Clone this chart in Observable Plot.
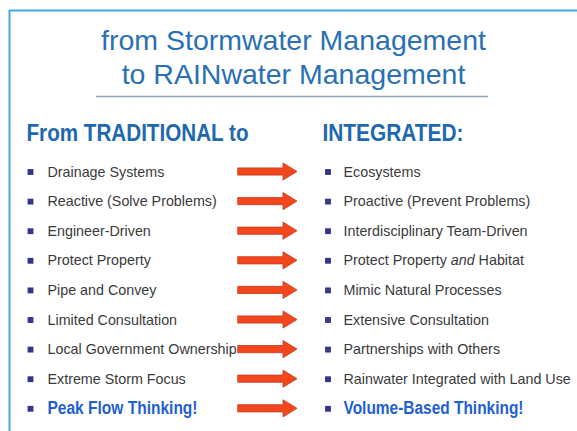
<!DOCTYPE html>
<html>
<head>
<meta charset="utf-8">
<script src="https://cdn.jsdelivr.net/npm/d3@7"></script>
<script src="https://cdn.jsdelivr.net/npm/@observablehq/plot@0.6"></script>
<style>
  html, body { margin: 0; padding: 0; background: #ffffff; }
  #chart svg { display: block; }
</style>
</head>
<body>
<div id="chart"></div>
<script>
// ---- data ----
const titleLines = ["from Stormwater Management", "to RAINwater Management"];
const headingLeft = "From TRADITIONAL to";
const headingRight = "INTEGRATED:";
const traditional = [
  "Drainage Systems",
  "Reactive (Solve Problems)",
  "Engineer-Driven",
  "Protect Property",
  "Pipe and Convey",
  "Limited Consultation",
  "Local Government Ownership",
  "Extreme Storm Focus",
  "Peak Flow Thinking!"
];
const integrated = [
  "Ecosystems",
  "Proactive (Prevent Problems)",
  "Interdisciplinary Team-Driven",
  "Protect Property and Habitat",
  "Mimic Natural Processes",
  "Extensive Consultation",
  "Partnerships with Others",
  "Rainwater Integrated with Land Use",
  "Volume-Based Thinking!"
];
const emphasized = [false, false, false, false, false, false, false, false, true];

// ---- layout ----
const W = 577, H = 431;
const L = {
  frameX: 9, frameY: 10,
  titleY: [40, 74], titleX: 293,
  ruleY: 96, ruleX1: 96, ruleX2: 488,
  headY: 133, headLeftX: 26, headRightX: 322,
  row0: 171.5, rowStep: 29.6,
  bulletL: 30, textL: 47, bulletR: 327.5, textR: 343,
  arrowX: 238
};
// condensed (narrow bold) text widths, px
const narrowWidths = new Map([
  [headingLeft, 222], [headingRight, 141],
  ["Peak Flow Thinking!", 150], ["Volume-Based Thinking!", 180]
]);
const rowY = i => L.row0 + i * L.rowStep;

const rows = traditional.map((t, i) => ({i, left: t, right: integrated[i], em: emphasized[i], y: rowY(i)}));

// arrow profile (offset from start, half-height)
const arrowProfile = [[0, 3.6], [45, 3.6], [45, 8.6], [59, 0]];
const arrowPts = rows.flatMap(r => arrowProfile.map(([dx, h]) => ({i: r.i, x: L.arrowX + dx, y1: r.y - h, y2: r.y + h})));

const body = rows.filter(r => !r.em);
const emph = rows.filter(r => r.em);
const titleData = titleLines.map((t, k) => ({t, y: L.titleY[k]}));

const sans = "Liberation Sans, Arial, sans-serif";

const chart = Plot.plot({
  width: W, height: H, margin: 0,
  x: {type: "linear", domain: [0, W], range: [0, W], axis: null},
  y: {type: "linear", domain: [0, H], range: [0, H], axis: null},
  style: {background: "#ffffff", overflow: "visible"},
  marks: [
    // slide frame (top and left edges)
    Plot.ruleY([L.frameY], {x1: L.frameX, x2: W, stroke: "#45a6e6", strokeWidth: 2}),
    Plot.ruleX([L.frameX], {y1: L.frameY, y2: H, stroke: "#45a6e6", strokeWidth: 2}),
    // title
    Plot.text(titleData, {x: L.titleX, y: "y", text: "t", fill: "#2a70b2", fontSize: 28.5,
      fontFamily: sans, textAnchor: "middle", lineAnchor: "middle"}),
    Plot.ruleY([L.ruleY], {x1: L.ruleX1, x2: L.ruleX2, stroke: "#8fa3b8", strokeWidth: 1.5}),
    // headings
    Plot.text([headingLeft], {x: L.headLeftX, y: L.headY, text: d => d, fill: "#1d68b0", fontSize: 23.5, fontWeight: "bold",
      fontFamily: sans, textAnchor: "start", lineAnchor: "middle"}),
    Plot.text([headingRight], {x: L.headRightX, y: L.headY, text: d => d, fill: "#1d68b0", fontSize: 23.5, fontWeight: "bold",
      fontFamily: sans, textAnchor: "start", lineAnchor: "middle"}),
    // arrows
    Plot.areaY(arrowPts, {x: "x", y1: "y1", y2: "y2", z: "i", fill: "#f2461d", stroke: "#c53a1e", strokeWidth: 0.8, curve: "linear"}),
    // bullets
    Plot.dot(rows, {x: L.bulletL, y: "y", symbol: "square", r: 3.3, fill: "#35358f", stroke: null}),
    Plot.dot(rows, {x: L.bulletR, y: "y", symbol: "square", r: 3.3, fill: "#35358f", stroke: null}),
    // body text
    Plot.text(body, {x: L.textL, y: "y", text: "left", fill: "#3a3a3a", fontSize: 14.3,
      fontFamily: sans, textAnchor: "start", lineAnchor: "middle"}),
    Plot.text(body, {x: L.textR, y: "y", text: "right", fill: "#3a3a3a", fontSize: 14.3,
      fontFamily: sans, textAnchor: "start", lineAnchor: "middle"}),
    // emphasized final row
    Plot.text(emph, {x: L.textL, y: d => d.y - 1, text: "left", fill: "#1f5fd2", fontSize: 18, fontWeight: "bold",
      fontFamily: sans, textAnchor: "start", lineAnchor: "middle"}),
    Plot.text(emph, {x: L.textR, y: d => d.y - 1, text: "right", fill: "#1f5fd2", fontSize: 18, fontWeight: "bold",
      fontFamily: sans, textAnchor: "start", lineAnchor: "middle"})
  ]
});

d3.select(chart).selectAll("text").each(function() {
  const el = d3.select(this);
  const s = el.text();
  // condensed bold headings / emphasis
  if (narrowWidths.has(s)) {
    el.attr("textLength", narrowWidths.get(s)).attr("lengthAdjust", "spacingAndGlyphs");
  }
  // italicize "and" in "Protect Property and Habitat"
  if (s === "Protect Property and Habitat") {
    el.text(null);
    el.append("tspan").text("Protect Property ");
    el.append("tspan").attr("font-style", "italic").text("and");
    el.append("tspan").text(" Habitat");
  }
});

document.getElementById("chart").appendChild(chart);
</script>
</body>
</html>
